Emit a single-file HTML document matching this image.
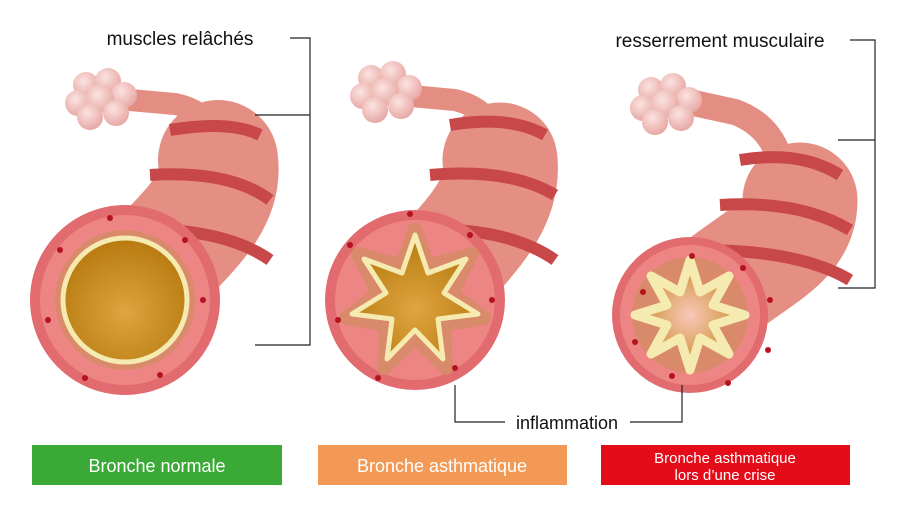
<!DOCTYPE html><html><head><style>body{margin:0;background:#fff}svg{display:block}text{font-family:"Liberation Sans",sans-serif}</style></head><body>
<svg width="907" height="514" viewBox="0 0 907 514" xmlns="http://www.w3.org/2000/svg">
<defs>
<radialGradient id="al" cx="0.4" cy="0.35" r="0.7"><stop offset="0" stop-color="#fbe3e0"/><stop offset="1" stop-color="#e6a4a0"/></radialGradient>
<radialGradient id="lu" cx="0.5" cy="0.6" r="0.6"><stop offset="0" stop-color="#e0a440"/><stop offset="1" stop-color="#b67a10"/></radialGradient>
<radialGradient id="lu3" cx="0.5" cy="0.5" r="0.5"><stop offset="0" stop-color="#f9c8b8"/><stop offset="1" stop-color="#c98b2a"/></radialGradient>
<g id="alv"><circle cx="-14" cy="-10" r="13" fill="url(#al)"/><circle cx="8" cy="-14" r="13" fill="url(#al)"/><circle cx="24" cy="0" r="13" fill="url(#al)"/><circle cx="-22" cy="8" r="13" fill="url(#al)"/><circle cx="0" cy="4" r="14" fill="url(#al)"/><circle cx="16" cy="18" r="13" fill="url(#al)"/><circle cx="-10" cy="22" r="13" fill="url(#al)"/></g>
</defs>
<!-- bronchus 1 -->
<path d="M130,100 L175,104 Q215,112 215,150" fill="none" stroke="#e48d83" stroke-width="22" stroke-linecap="round"/>
<path d="M125,300 C175,240 225,210 218,160" fill="none" stroke="#e58f84" stroke-width="120" stroke-linecap="round"/>
<path d="M170,130 Q230,120 260,135 M150,175 Q230,170 270,200 M120,230 Q220,225 270,260" fill="none" stroke="#c8484a" stroke-width="12"/>
<use href="#alv" x="100" y="95"/>
<circle cx="125" cy="300" r="95" fill="#e26b6f"/>
<circle cx="125" cy="300" r="85" fill="#ee8585"/>
<circle cx="125" cy="300" r="70" fill="#d98a6a"/>
<circle cx="125" cy="300" r="62" fill="url(#lu)" stroke="#f5eab0" stroke-width="5"/>
<g fill="#b5131f"><circle cx="60" cy="250" r="3"/><circle cx="110" cy="218" r="3"/><circle cx="185" cy="240" r="3"/><circle cx="203" cy="300" r="3"/><circle cx="160" cy="375" r="3"/><circle cx="85" cy="378" r="3"/><circle cx="48" cy="320" r="3"/></g>
<!-- bronchus 2 -->
<path d="M400,95 L455,100 Q495,110 495,145" fill="none" stroke="#e48d83" stroke-width="22" stroke-linecap="round"/>
<path d="M415,300 C465,240 505,210 500,160" fill="none" stroke="#e58f84" stroke-width="115" stroke-linecap="round"/>
<path d="M450,125 Q510,115 545,135 M430,175 Q510,168 555,195 M410,230 Q505,225 555,260" fill="none" stroke="#c8484a" stroke-width="12"/>
<use href="#alv" x="385" y="88"/>
<circle cx="415" cy="300" r="90" fill="#e26b6f"/>
<circle cx="415" cy="300" r="80" fill="#ee8585"/>
<polygon points="415,229 428,266 472,254 452,293 484,318 444,325 446,368 415,338 384,368 386,325 346,318 378,293 358,254 402,266" fill="#d98a6a" stroke="#d98a6a" stroke-width="14" stroke-linejoin="round"/>
<polygon points="415,235 428,273 466,259 444,293 478,314 438,319 443,359 415,330 387,359 392,319 352,314 386,293 364,259 402,273" fill="url(#lu)" stroke="#f5eab0" stroke-width="5" stroke-linejoin="round"/>
<g fill="#b5131f"><circle cx="350" cy="245" r="3"/><circle cx="410" cy="214" r="3"/><circle cx="470" cy="235" r="3"/><circle cx="492" cy="300" r="3"/><circle cx="455" cy="368" r="3"/><circle cx="378" cy="378" r="3"/><circle cx="338" cy="320" r="3"/></g>
<!-- bronchus 3 -->
<path d="M680,100 L735,112 Q770,125 780,160" fill="none" stroke="#e48d83" stroke-width="26" stroke-linecap="round"/>
<path d="M690,315 C740,260 800,250 800,200" fill="none" stroke="#e58f84" stroke-width="115" stroke-linecap="round"/>
<path d="M740,160 Q800,150 840,175 M720,205 Q800,200 850,230 M700,250 Q800,250 850,280" fill="none" stroke="#c8484a" stroke-width="12"/>
<use href="#alv" x="665" y="100"/>
<circle cx="690" cy="315" r="78" fill="#e26b6f"/>
<circle cx="690" cy="315" r="70" fill="#ee8585"/>
<circle cx="690" cy="315" r="58" fill="#d98a6a"/>
<polygon points="690,260 700,292 729,276 713,305 745,315 713,325 729,354 700,338 690,370 680,338 651,354 667,325 635,315 667,305 651,276 680,292" fill="url(#lu3)" stroke="#f5eab0" stroke-width="9" stroke-linejoin="round"/>
<g fill="#b5131f"><circle cx="692" cy="256" r="3"/><circle cx="743" cy="268" r="3"/><circle cx="770" cy="300" r="3"/><circle cx="768" cy="350" r="3"/><circle cx="728" cy="383" r="3"/><circle cx="672" cy="376" r="3"/><circle cx="635" cy="342" r="3"/><circle cx="643" cy="292" r="3"/></g>
<!-- lines -->
<g stroke="#222" stroke-width="1.2" fill="none">
<path d="M290,38 H310 V345 H255 M310,115 H255"/>
<path d="M850,40 H875 V288 H838 M875,140 H838"/>
<path d="M455,385 V422 H505 M630,422 H682 V385"/>
</g>
<text x="180" y="45" font-size="19" text-anchor="middle" fill="#111">muscles relâchés</text>
<text x="720" y="47" font-size="19" text-anchor="middle" fill="#111">resserrement musculaire</text>
<text x="567" y="429" font-size="18" text-anchor="middle" fill="#111">inflammation</text>
<rect x="32" y="445" width="250" height="40" fill="#3aa936"/>
<text x="157" y="472" font-size="18" text-anchor="middle" fill="#fff">Bronche normale</text>
<rect x="318" y="445" width="249" height="40" fill="#f29a55"/>
<text x="442" y="472" font-size="18" text-anchor="middle" fill="#fff">Bronche asthmatique</text>
<rect x="601" y="445" width="249" height="40" fill="#e30c18"/>
<text x="725" y="463" font-size="15" text-anchor="middle" fill="#fff">Bronche asthmatique</text>
<text x="725" y="480" font-size="15" text-anchor="middle" fill="#fff">lors d’une crise</text>
</svg></body></html>
